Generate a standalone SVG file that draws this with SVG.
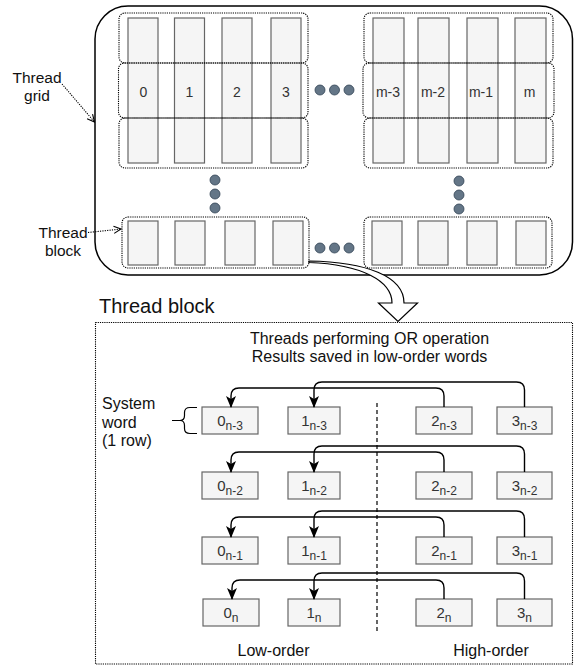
<svg xmlns="http://www.w3.org/2000/svg" width="574" height="669" viewBox="0 0 574 669">
  <defs>
    <style>
      text { font-family: "Liberation Sans", Arial, Helvetica, sans-serif; fill: #111; }
      .cell { fill: #f5f5f5; stroke: #666; stroke-width: 1.2; }
      .grp { fill: none; stroke: #000; stroke-width: 1.1; stroke-dasharray: 1.2 1; }
      .dot { fill: #647687; stroke: #314354; stroke-width: 0.8; }
      .num { font-size: 14px; fill: #333; text-anchor: middle; }
      .lbl { font-size: 15.5px; text-anchor: middle; }
      .wl { font-size: 15px; fill: #333; text-anchor: middle; }
      .wl tspan.s { font-size: 12px; }
      .conn { fill: none; stroke: #000; stroke-width: 1.4; }
      .pointer { fill: none; stroke: #000; stroke-width: 1.1; stroke-dasharray: 1.2 1.2; }
    </style>
    <marker id="classic" viewBox="0 0 12 10" refX="11" refY="5" markerWidth="12" markerHeight="10" markerUnits="userSpaceOnUse" orient="auto">
      <path d="M0,0 L12,5 L0,10 L3,5 Z" fill="#000"/>
    </marker>
    <marker id="open" viewBox="0 0 10 10" refX="9" refY="5" markerWidth="9" markerHeight="9" markerUnits="userSpaceOnUse" orient="auto">
      <path d="M1,1 L9,5 L1,9" fill="none" stroke="#000" stroke-width="1.2"/>
    </marker>
  </defs>

  <!-- thread grid frame -->
  <g id="thread-grid">
    <rect x="95" y="6" width="477.5" height="269" rx="33" ry="33" fill="none" stroke="#000" stroke-width="1.5"/>
  </g>

  <!-- top-left block: four tall thread columns -->
  <g id="block-top-left">
    <rect class="cell" x="128" y="18" width="30" height="145"/>
    <rect class="cell" x="174.5" y="18" width="30" height="145"/>
    <rect class="cell" x="222" y="18" width="30" height="145"/>
    <rect class="cell" x="271" y="18" width="30" height="145"/>
    <rect class="grp" x="119" y="13" width="189" height="50" rx="6"/>
    <rect class="grp" x="118.5" y="63" width="189.5" height="55" rx="6"/>
    <rect class="grp" x="119" y="118" width="189" height="50" rx="6"/>
    <text class="num" x="143.5" y="97">0</text>
    <text class="num" x="189.5" y="97">1</text>
    <text class="num" x="237" y="97">2</text>
    <text class="num" x="286" y="97">3</text>
  </g>

  <!-- top-right block -->
  <g id="block-top-right">
    <rect class="cell" x="373" y="18" width="31" height="145"/>
    <rect class="cell" x="418" y="18" width="31" height="145"/>
    <rect class="cell" x="467" y="18" width="31" height="145"/>
    <rect class="cell" x="515" y="18" width="31" height="145"/>
    <rect class="grp" x="364" y="13" width="189" height="50" rx="6"/>
    <rect class="grp" x="363" y="63" width="191" height="55" rx="6"/>
    <rect class="grp" x="364" y="118" width="189" height="50" rx="6"/>
    <text class="num" x="388" y="97">m-3</text>
    <text class="num" x="433" y="97">m-2</text>
    <text class="num" x="481" y="97">m-1</text>
    <text class="num" x="529.5" y="97">m</text>
  </g>

  <!-- bottom-left block -->
  <g id="block-bottom-left">
    <rect class="cell" x="128" y="221" width="30" height="44"/>
    <rect class="cell" x="175" y="221" width="30" height="44"/>
    <rect class="cell" x="225" y="221" width="30" height="44"/>
    <rect class="cell" x="273" y="221" width="30" height="44"/>
    <rect class="grp" x="122" y="217" width="187" height="51" rx="6"/>
  </g>

  <!-- bottom-right block -->
  <g id="block-bottom-right">
    <rect class="cell" x="372" y="221" width="30" height="44"/>
    <rect class="cell" x="418" y="221" width="30" height="44"/>
    <rect class="cell" x="467" y="221" width="30" height="44"/>
    <rect class="cell" x="516" y="221" width="30" height="44"/>
    <rect class="grp" x="364" y="217" width="188" height="51" rx="6"/>
  </g>

  <!-- ellipsis dots -->
  <g id="ellipses">
    <circle class="dot" cx="320" cy="90" r="5"/>
    <circle class="dot" cx="334.5" cy="90" r="5"/>
    <circle class="dot" cx="349" cy="90" r="5"/>
    <circle class="dot" cx="320" cy="248" r="5"/>
    <circle class="dot" cx="334.5" cy="248" r="5"/>
    <circle class="dot" cx="349" cy="248" r="5"/>
    <circle class="dot" cx="215" cy="180" r="5"/>
    <circle class="dot" cx="215" cy="194" r="5"/>
    <circle class="dot" cx="215" cy="208" r="5"/>
    <circle class="dot" cx="459" cy="181" r="5"/>
    <circle class="dot" cx="459" cy="195" r="5"/>
    <circle class="dot" cx="459" cy="209" r="5"/>
  </g>

  <!-- side labels -->
  <g id="label-grid">
    <text class="lbl" x="37" y="83">Thread</text>
    <text class="lbl" x="37" y="101">grid</text>
  </g>
  <g id="label-block">
    <text class="lbl" x="63" y="238">Thread</text>
    <text class="lbl" x="63" y="256">block</text>
  </g>

  <!-- expanded thread block -->
  <g id="thread-block-detail">
    <rect x="95.5" y="322.5" width="477" height="341.5" fill="none" stroke="#000" stroke-width="1.1" stroke-dasharray="1.2 1"/>
    <text x="99" y="313" font-size="20">Thread block</text>
    <text x="369.5" y="344" font-size="16" text-anchor="middle">Threads performing OR operation</text>
    <text x="369.5" y="362" font-size="16" text-anchor="middle">Results saved in low-order words</text>
    <text x="102" y="409" font-size="16">System</text>
    <text x="102" y="427.5" font-size="16">word</text>
    <text x="102" y="446" font-size="16">(1 row)</text>
    <text x="273.5" y="656" font-size="16" text-anchor="middle">Low-order</text>
    <text x="491" y="656" font-size="16" text-anchor="middle">High-order</text>
    <path d="M197,407.5 L190,407.5 Q184.5,407.5 184.5,412.5 L184.5,415.5 Q184.5,420.5 180,420.5 Q184.5,420.5 184.5,425.5 L184.5,428.5 Q184.5,433.5 190,433.5 L197,433.5 M172,420.5 L180,420.5" fill="none" stroke="#000" stroke-width="1.2"/>
  </g>

  <!-- system words, row n-3 -->
  <g id="word-0-n3"><rect class="cell" x="202" y="407" width="56" height="27"/><text class="wl" x="230" y="426">0<tspan class="s" dy="3.5">n-3</tspan></text></g>
  <g id="word-1-n3"><rect class="cell" x="288" y="407" width="52" height="27"/><text class="wl" x="314" y="426">1<tspan class="s" dy="3.5">n-3</tspan></text></g>
  <g id="word-2-n3"><rect class="cell" x="416" y="407" width="56" height="27"/><text class="wl" x="444" y="426">2<tspan class="s" dy="3.5">n-3</tspan></text></g>
  <g id="word-3-n3"><rect class="cell" x="497" y="407" width="55" height="27"/><text class="wl" x="524.5" y="426">3<tspan class="s" dy="3.5">n-3</tspan></text></g>

  <!-- row n-2 -->
  <g id="word-0-n2"><rect class="cell" x="202" y="472" width="56" height="27"/><text class="wl" x="230" y="491">0<tspan class="s" dy="3.5">n-2</tspan></text></g>
  <g id="word-1-n2"><rect class="cell" x="288" y="472" width="52" height="27"/><text class="wl" x="314" y="491">1<tspan class="s" dy="3.5">n-2</tspan></text></g>
  <g id="word-2-n2"><rect class="cell" x="416" y="472" width="56" height="27"/><text class="wl" x="444" y="491">2<tspan class="s" dy="3.5">n-2</tspan></text></g>
  <g id="word-3-n2"><rect class="cell" x="497" y="472" width="55" height="27"/><text class="wl" x="524.5" y="491">3<tspan class="s" dy="3.5">n-2</tspan></text></g>

  <!-- row n-1 -->
  <g id="word-0-n1"><rect class="cell" x="202" y="537" width="56" height="27"/><text class="wl" x="230" y="556">0<tspan class="s" dy="3.5">n-1</tspan></text></g>
  <g id="word-1-n1"><rect class="cell" x="288" y="537" width="52" height="27"/><text class="wl" x="314" y="556">1<tspan class="s" dy="3.5">n-1</tspan></text></g>
  <g id="word-2-n1"><rect class="cell" x="416" y="537" width="56" height="27"/><text class="wl" x="444" y="556">2<tspan class="s" dy="3.5">n-1</tspan></text></g>
  <g id="word-3-n1"><rect class="cell" x="497" y="537" width="55" height="27"/><text class="wl" x="524.5" y="556">3<tspan class="s" dy="3.5">n-1</tspan></text></g>

  <!-- row n -->
  <g id="word-0-n"><rect class="cell" x="203" y="599" width="56" height="27"/><text class="wl" x="231" y="618">0<tspan class="s" dy="3.5">n</tspan></text></g>
  <g id="word-1-n"><rect class="cell" x="288" y="599" width="52" height="27"/><text class="wl" x="314" y="618">1<tspan class="s" dy="3.5">n</tspan></text></g>
  <g id="word-2-n"><rect class="cell" x="416" y="599" width="56" height="27"/><text class="wl" x="444" y="618">2<tspan class="s" dy="3.5">n</tspan></text></g>
  <g id="word-3-n"><rect class="cell" x="497" y="599" width="55" height="27"/><text class="wl" x="524.5" y="618">3<tspan class="s" dy="3.5">n</tspan></text></g>

  <!-- connectors -->
  <g id="connectors">
    <!-- label pointers -->
    <path class="pointer" d="M62,84 L94.5,122" marker-end="url(#open)"/>
    <path class="pointer" d="M88,232.5 L121,229" marker-end="url(#open)"/>

    <!-- expansion arrow from the block to its detail view -->
    <path d="M309,261 C366,262 404,276 404,303 L417.5,303 L398,321.5 L378.5,303 L392,303 C392,281 362,264.5 309,262.5 Z" fill="#fff" stroke="#000" stroke-width="1.2" stroke-linejoin="miter"/>

    <!-- low/high half separator -->
    <line x1="377" y1="403" x2="377" y2="631" stroke="#000" stroke-width="1.2" stroke-dasharray="4 3"/>

    <!-- OR reductions: high-order word into low-order word, per row -->
    <path class="conn" d="M444,407 L444,396 Q444,388 436,388 L239,388 Q231,388 231,396 L231,407" marker-end="url(#classic)"/>
    <path class="conn" d="M524.5,407 L524.5,390 Q524.5,382 516.5,382 L322,382 Q314,382 314,390 L314,407" marker-end="url(#classic)"/>

    <path class="conn" d="M444,472 L444,460 Q444,452 436,452 L239,452 Q231,452 231,460 L231,472" marker-end="url(#classic)"/>
    <path class="conn" d="M524.5,472 L524.5,454 Q524.5,446 516.5,446 L322,446 Q314,446 314,454 L314,472" marker-end="url(#classic)"/>

    <path class="conn" d="M444,537 L444,525 Q444,517 436,517 L239,517 Q231,517 231,525 L231,537" marker-end="url(#classic)"/>
    <path class="conn" d="M524.5,537 L524.5,519 Q524.5,511 516.5,511 L322,511 Q314,511 314,519 L314,537" marker-end="url(#classic)"/>

    <path class="conn" d="M444,599 L444,588 Q444,580 436,580 L240,580 Q232,580 232,588 L232,599" marker-end="url(#classic)"/>
    <path class="conn" d="M524.5,599 L524.5,581 Q524.5,573 516.5,573 L322,573 Q314,573 314,581 L314,599" marker-end="url(#classic)"/>
  </g>
</svg>
